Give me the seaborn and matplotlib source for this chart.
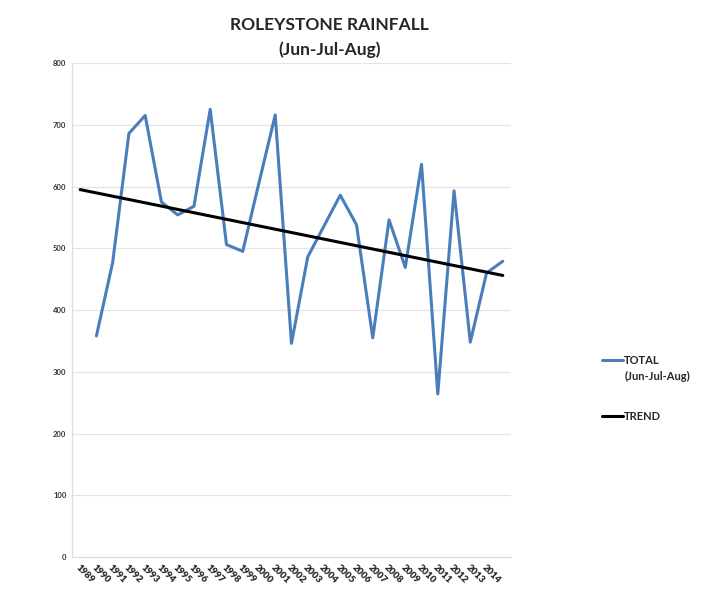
#!/usr/bin/env python3

import numpy as np
import pandas as pd
import matplotlib
matplotlib.use("Agg")
import matplotlib.pyplot as plt
from matplotlib.legend_handler import HandlerLine2D
import seaborn as sns

# category labels on the x axis (last slot has no label in the original)
years = ["1989", "1990", "1991", "1992", "1993", "1994", "1995", "1996",
         "1997", "1998", "1999", "2000", "2001", "2002", "2003", "2004",
         "2005", "2006", "2007", "2008", "2009", "2010", "2011", "2012",
         "2013", "2014", ""]

# Jun-Jul-Aug totals (mm); first slot is empty
total = [np.nan, 358, 477, 686, 715, 575, 554, 568, 725, 506, 495, 606, 716,
         346, 486, 536, 586, 538, 355, 546, 469, 636, 264, 593, 348, 460, 479]

# linear trend end values
trend_start = 595
trend_end = 456


class TopLineHandler(HandlerLine2D):
    # put the line sample next to the first row of a two-row label
    def __init__(self, shift, **kw):
        super().__init__(**kw)
        self.shift = shift

    def create_artists(self, legend, orig_handle, xdescent, ydescent,
                       width, height, fontsize, trans):
        arts = super().create_artists(legend, orig_handle, xdescent, ydescent,
                                      width, height, fontsize, trans)
        for a in arts:
            a.set_ydata([y + self.shift for y in a.get_ydata()])
        return arts


def main():
    sns.set_style("white")
    plt.rcParams["font.family"] = ["Lato", "DejaVu Sans"]

    pos = list(range(len(years)))
    df = pd.DataFrame({"pos": pos, "total": total})
    tr = pd.DataFrame({"pos": [pos[0], pos[-1]], "trend": [trend_start, trend_end]})

    fig = plt.figure(figsize=(7.16, 5.9), dpi=100)
    ax = fig.add_axes([0.1006, 0.0559, 0.613, 0.8373])

    sns.lineplot(data=df, x="pos", y="total", ax=ax, color="#4a7ebb",
                 linewidth=2.2, label="TOTAL\n(Jun-Jul-Aug)", legend=False)
    sns.lineplot(data=tr, x="pos", y="trend", ax=ax, color="black",
                 linewidth=2.2, label="TREND", legend=False)

    ax.set_xlim(-0.5, len(years) - 0.5)
    ax.set_ylim(0, 800)
    ax.set_yticks(range(0, 801, 100))
    ax.set_yticklabels([str(v) for v in range(0, 801, 100)],
                       fontsize=5.5, fontweight="bold", color="#333333")
    ax.set_xticks(pos)
    ax.set_xticklabels(years, rotation=-45, ha="left", va="top",
                       rotation_mode="anchor", fontsize=6.8, fontweight="heavy")
    ax.tick_params(axis="both", length=0, pad=4)
    ax.set_xlabel("")
    ax.set_ylabel("")
    ax.grid(axis="y", color="#e4e4e4", linewidth=0.9)
    ax.set_axisbelow(True)
    for s in ["top", "right"]:
        ax.spines[s].set_visible(False)
    for s in ["left", "bottom"]:
        ax.spines[s].set_color("#dddddd")
        ax.spines[s].set_linewidth(0.9)

    fig.text(0.46, 0.937, "ROLEYSTONE RAINFALL\n(Jun-Jul-Aug)", ha="center",
             va="center", fontsize=12.5, fontweight="bold", linespacing=1.6)

    handles, labels = ax.get_legend_handles_labels()
    leg = fig.legend(handles, labels, loc="upper left",
                     bbox_to_anchor=(0.827, 0.415), frameon=False,
                     handlelength=1.9, handletextpad=0.1, labelspacing=2.6,
                     prop={"size": 8, "weight": "bold"},
                     handler_map={handles[0]: TopLineHandler(shift=6.5)})
    leg.texts[0].set_linespacing(1.55)

    fig.savefig("out.png", dpi=100)
    plt.close()

if __name__ == "__main__":
    main()
